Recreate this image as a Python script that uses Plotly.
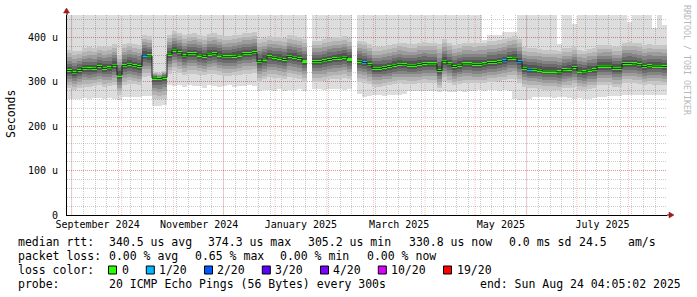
import plotly.graph_objects as go
from datetime import datetime, timedelta

# ---------------- data ----------------
range_start = datetime(2024, 8, 29, 4, 5, 2)
range_end = datetime(2025, 8, 24, 4, 5, 2)
bin_days = 3  # 120 bins of 3 days

median_us = [325, 320, 325, 330, 329, 330, 334, 330, 331, 337,
             315, 336, 339, 336, 334, 360, 358, 308, 307, 310,
             362, 371, 365, 358, 363, 363, 360, 357, 362, 363,
             360, 356, 356, 357, 360, 363, 363, 365, 345, 351,
             356, 355, 353, 350, 357, 355, 352, 345, None, 345,
             345, 347, 350, 352, 353, 355, 351, None, 346, 343,
             338, 330, 330, 332, 334, 337, 339, 338, 337, 337,
             339, 341, 340, 340, 325, 346, 340, 334, 337, 340,
             340, 339, 339, 340, 343, 343, 345, 347, 352, 353,
             345, 330, 328, 328, 326, 324, 324, 324, 322, 327,
             328, 332, 324, 322, 326, 327, 335, 335, 335, 330,
             330, 341, 341, 340, 338, 334, 336, 335, 335, 334]

smoke_hi_us = [372, 368, 370, 375, 378, 376, 380, 378, 380, 385,
               360, 384, 388, 385, 382, 405, 402, 322, 320, 325,
               405, 415, 410, 405, 408, 410, 405, 402, 408, 410,
               405, 402, 403, 405, 406, 410, 410, 412, 395, 398,
               402, 400, 400, 398, 404, 402, 400, 395, None, 392,
               392, 395, 398, 400, 400, 402, 398, None, 392, 390,
               385, 378, 378, 380, 382, 385, 388, 386, 385, 385,
               388, 390, 388, 388, 385, 395, 388, 382, 385, 388,
               388, 387, 388, 388, 392, 392, 394, 396, 400, 402,
               395, 378, 376, 376, 374, 372, 372, 372, 370, 375,
               376, 380, 372, 370, 374, 375, 382, 383, 383, 378,
               378, 388, 389, 388, 386, 382, 384, 383, 383, 382]

smoke_lo_us = [285, 282, 285, 288, 288, 290, 292, 288, 290, 292,
               270, 292, 295, 294, 292, 310, 312, 262, 260, 262,
               318, 325, 320, 315, 318, 318, 315, 314, 318, 318,
               315, 312, 312, 314, 316, 318, 318, 320, 300, 305,
               310, 309, 308, 305, 310, 308, 306, 300, None, 300,
               300, 302, 305, 306, 307, 309, 305, None, 300, 298,
               294, 288, 288, 290, 292, 294, 296, 295, 294, 294,
               296, 298, 297, 297, 285, 302, 297, 292, 294, 297,
               297, 296, 296, 297, 300, 300, 302, 303, 306, 306,
               298, 288, 285, 285, 284, 282, 282, 282, 280, 285,
               285, 288, 282, 280, 284, 285, 292, 292, 292, 288,
               288, 297, 297, 296, 295, 292, 294, 293, 293, 292]

min_us = [262, 260, 262, 263, 262, 264, 263, 262, 263, 262,
          258, 266, 266, 265, 266, 268, 268, 246, 245, 247,
          292, 290, 293, 288, 292, 290, 291, 285, 292, 290,
          288, 290, 292, 289, 291, 290, 292, 290, 280, 282,
          282, 280, 283, 279, 282, 281, 283, 280, None, 283,
          283, 282, 284, 283, 283, 282, 283, None, 272, 265,
          268, 270, 270, 268, 270, 271, 270, 272, 278, 279,
          279, 278, 280, 280, 276, 278, 277, 277, 278, 277,
          278, 280, 281, 280, 281, 281, 280, 281, 280, 262,
          258, 259, 262, 265, 266, 266, 265, 264, 266, 265,
          263, 262, 264, 262, 262, 263, 265, 266, 268, 268,
          268, 270, 270, 269, 270, 271, 270, 271, 269, 270]

max_us = [460, 460, 460, 460, 460, 460, 460, 460, 460, 460,
          460, 460, 460, 460, 460, 460, 460, 460, 460, 460,
          460, 460, 460, 460, 460, 460, 460, 460, 460, 460,
          460, 460, 460, 460, 460, 460, 460, 460, 460, 460,
          460, 460, 460, 460, 460, 460, 460, 460, None, 460,
          460, 460, 460, 460, 460, 460, 460, None, 460, 460,
          460, 460, 460, 460, 460, 460, 460, 460, 460, 460,
          460, 460, 460, 460, 460, 460, 460, 460, 460, 460,
          460, 460, 460, 394, 405, 405, 405, 412, 412, 412,
          460, 460, 460, 460, 460, 460, 460, 460, 385, 460,
          460, 430, 460, 460, 460, 460, 460, 460, 460, 460,
          460, 460, 435, 460, 460, 460, 460, 420, 460, 428]

loss_count = [0, 0, 0, 0, 0, 0, 0, 0, 0, 0,
              0, 0, 0, 0, 0, 1, 0, 0, 0, 0,
              0, 0, 0, 0, 0, 0, 0, 0, 0, 0,
              0, 0, 0, 0, 0, 0, 0, 0, 0, 0,
              0, 0, 0, 0, 0, 0, 0, 0, 0, 0,
              0, 0, 0, 0, 0, 0, 0, 0, 0, 1,
              0, 0, 0, 0, 0, 0, 0, 0, 0, 0,
              0, 0, 0, 0, 0, 0, 0, 0, 0, 0,
              0, 0, 0, 0, 0, 0, 0, 1, 0, 0,
              1, 0, 1, 0, 0, 0, 0, 0, 0, 0,
              0, 0, 0, 0, 0, 0, 0, 0, 0, 0,
              0, 0, 0, 0, 0, 0, 0, 0, 0, 0]

loss_thresholds = [0, 1, 2, 3, 4, 10, 19]
loss_colors = ['#26ff00', '#00b8ff', '#0059ff', '#5e00ff', '#7e00ff', '#dd00ff', '#ff0000']
loss_labels = ['0', '1/20', '2/20', '3/20', '4/20', '10/20', '19/20']

y_tick_vals = [0, 100, 200, 300, 400]
y_tick_text = ['0', '100 u', '200 u', '300 u', '400 u']
y_max = 450

x_label_dates = ['2024-09-16 12:00', '2024-11-16 12:00', '2025-01-16 12:00',
                 '2025-03-16 12:00', '2025-05-16 12:00', '2025-07-16 12:00']
x_label_text = ['September 2024', 'November 2024', 'January 2025',
                'March 2025', 'May 2025', 'July 2025']
month_starts = ['2024-09-01', '2024-10-01', '2024-11-01', '2024-12-01',
                '2025-01-01', '2025-02-01', '2025-03-01', '2025-04-01',
                '2025-05-01', '2025-06-01', '2025-07-01', '2025-08-01']

stats_rtt = ['median rtt:', '340.5 us avg', '374.3 us max', '305.2 us min',
             '330.8 us now', '0.0 ms sd', '24.5', 'am/s']
stats_loss = ['packet loss:', '0.00 % avg', '0.65 % max', '0.00 % min', '0.00 % now']
probe_text = ['probe:', '20 ICMP Echo Pings (56 Bytes) every 300s',
              'end: Sun Aug 24 04:05:02 2025']

# smoke shading: (fraction of the smoke extent around the median, gray colour)
smoke_shades = [(1.00, '#c6c6c6'), (0.82, '#b2b2b2'), (0.64, '#9c9c9c'),
                (0.48, '#848484'), (0.33, '#6c6c6c'), (0.18, '#545454')]

# ---------------- layout helpers ----------------
W, H = 697, 297
L, R, T, B = 67, 30, 15, 82
PW, PH = W - L - R, H - T - B
MONO = 'DejaVu Sans Mono'


def px(x):
    return (x - L) / PW


def py(y):
    return (T + PH - y) / PH


n = len(median_us)
bin_starts = [range_start + timedelta(days=bin_days * i) for i in range(n)]
centers = [s + timedelta(days=bin_days / 2) for s in bin_starts]
width_ms = bin_days * 86400000

fig = go.Figure()


def add_band(lower, upper, color):
    base, h = [], []
    for lo, up in zip(lower, upper):
        if lo is None or up is None:
            base.append(None)
            h.append(None)
        else:
            base.append(lo)
            h.append(up - lo)
    fig.add_trace(go.Bar(x=centers, y=h, base=base, width=[width_ms] * n,
                         marker=dict(color=color, line=dict(width=0)),
                         hoverinfo='skip', showlegend=False))


# lightest smoke: full ping range (semi-transparent so the grid shows through)
add_band(min_us, max_us, 'rgba(0,0,0,0.135)')
# darker smoke shades converging on the median
for f, col in smoke_shades:
    lower = [None if m is None else m - f * (m - s) for m, s in zip(median_us, smoke_lo_us)]
    upper = [None if m is None else m + f * (s - m) for m, s in zip(median_us, smoke_hi_us)]
    add_band(lower, upper, col)

# thin dark median connector
fig.add_trace(go.Scatter(x=bin_starts + [range_end], y=median_us + [median_us[-1]],
                         mode='lines', line=dict(color='#202020', width=1, shape='hv'),
                         connectgaps=False, hoverinfo='skip', showlegend=False))


def loss_color(c):
    col = loss_colors[0]
    for t, cc in zip(loss_thresholds, loss_colors):
        if c >= t:
            col = cc
    return col


med_h = 3 * y_max / PH
fig.add_trace(go.Bar(x=centers,
                     y=[None if m is None else med_h for m in median_us],
                     base=[None if m is None else m - med_h / 2 for m in median_us],
                     width=[width_ms] * n,
                     marker=dict(color=[loss_color(c) for c in loss_count], line=dict(width=0)),
                     hoverinfo='skip', showlegend=False))

RED_GRID = 'rgba(255,0,0,0.25)'
GRAY_GRID = 'rgba(110,110,110,0.35)'
DASH = '1px,1px'

shapes = []
for m in month_starts:
    shapes.append(dict(type='line', xref='x', yref='paper', x0=m, x1=m, y0=0, y1=1,
                       line=dict(color=RED_GRID, width=1, dash=DASH), layer='below'))

ARROW = '#a01818'
shapes.append(dict(type='line', xref='paper', yref='paper', x0=0, x1=0, y0=1, y1=1 + 4 / PH,
                   line=dict(color='black', width=1)))
shapes.append(dict(type='line', xref='paper', yref='paper', x0=1, x1=1 + 4 / PW, y0=0, y1=0,
                   line=dict(color='black', width=1)))
shapes.append(dict(type='path', xref='paper', yref='paper',
                   path=f'M {px(63.5)} {py(13)} L {px(69.5)} {py(13)} L {px(66.5)} {py(8)} Z',
                   fillcolor=ARROW, line=dict(color=ARROW, width=0.5)))
shapes.append(dict(type='path', xref='paper', yref='paper',
                   path=f'M {px(669)} {py(212)} L {px(669)} {py(218)} L {px(674)} {py(215)} Z',
                   fillcolor=ARROW, line=dict(color=ARROW, width=0.5)))

annotations = []


def text(t, x, y, size=11.5, color='black', **kw):
    annotations.append(dict(text=t.replace(' ', '\u00a0'), x=px(x), y=py(y), xref='paper', yref='paper',
                            xanchor=kw.pop('xanchor', 'left'), yanchor=kw.pop('yanchor', 'middle'),
                            showarrow=False, font=dict(family=MONO, size=size, color=color), **kw))


row_y = [242, 256, 270, 284]
for t, x in zip(stats_rtt, [16.4, 107.6, 206.7, 306.7, 407.3, 507.7, 577.7, 626.7]):
    text(t, x - 0.7, row_y[0])
for t, x in zip(stats_loss, [16.4, 107.6, 193.3, 279.0, 365.3]):
    text(t, x - 0.7, row_y[1])
text('loss color:', 16.4 - 0.7, row_y[2])
sq_x = [108, 145.8, 204, 261.8, 320, 377.8, 443]
lab_x = [121, 157.8, 215.6, 274, 331.6, 390, 455.6]
for c, lab, sx, lx in zip(loss_colors, loss_labels, sq_x, lab_x):
    shapes.append(dict(type='rect', xref='paper', yref='paper',
                       x0=px(sx + 0.5), x1=px(sx + 8.5), y0=py(row_y[2] + 4), y1=py(row_y[2] - 4),
                       fillcolor=c, line=dict(color='black', width=1)))
    text(lab, lx - 0.7, row_y[2])
for t, x in zip(probe_text, [16.4, 107.6, 478.7]):
    text(t, x - 0.7, row_y[3])

text('Seconds', 11, 114, size=11.5, xanchor='center', textangle=-90)
text('RRDTOOL / TOBI OETIKER', 687, 60, size=8.3, color='#b8b8b8', xanchor='center', textangle=90)

fig.update_layout(
    width=W, height=H, autosize=False,
    margin=dict(l=L, r=R, t=T, b=B, pad=0),
    paper_bgcolor='white', plot_bgcolor='white',
    barmode='overlay', bargap=0, showlegend=False,
    font=dict(family=MONO, size=10, color='black'),
    shapes=shapes, annotations=annotations,
    xaxis=dict(type='date', range=[range_start, range_end],
               tickmode='array', tickvals=x_label_dates, ticktext=x_label_text,
               ticks='', showgrid=False, zeroline=False,
               showline=True, linecolor='black', linewidth=1,
               tickfont=dict(family=MONO, size=10, color='black'),
               ticklabelstandoff=0,
               minor=dict(tickmode='linear', tick0='2024-09-01', dtick=7 * 86400000,
                          showgrid=True, gridcolor=GRAY_GRID, griddash=DASH, gridwidth=1, ticks=''),
               fixedrange=True),
    yaxis=dict(range=[0, y_max], tickmode='array', tickvals=y_tick_vals, ticktext=y_tick_text,
               ticks='', showgrid=True, gridcolor=RED_GRID, griddash=DASH, gridwidth=1,
               zeroline=False, showline=True, linecolor='black', linewidth=1,
               tickfont=dict(family=MONO, size=10, color='black'),
               ticklabelstandoff=6,
               minor=dict(tickmode='linear', tick0=0, dtick=20, showgrid=True,
                          gridcolor=GRAY_GRID, griddash=DASH, gridwidth=1, ticks=''),
               fixedrange=True),
)

fig.write_html('out.html', config={'displayModeBar': False})
